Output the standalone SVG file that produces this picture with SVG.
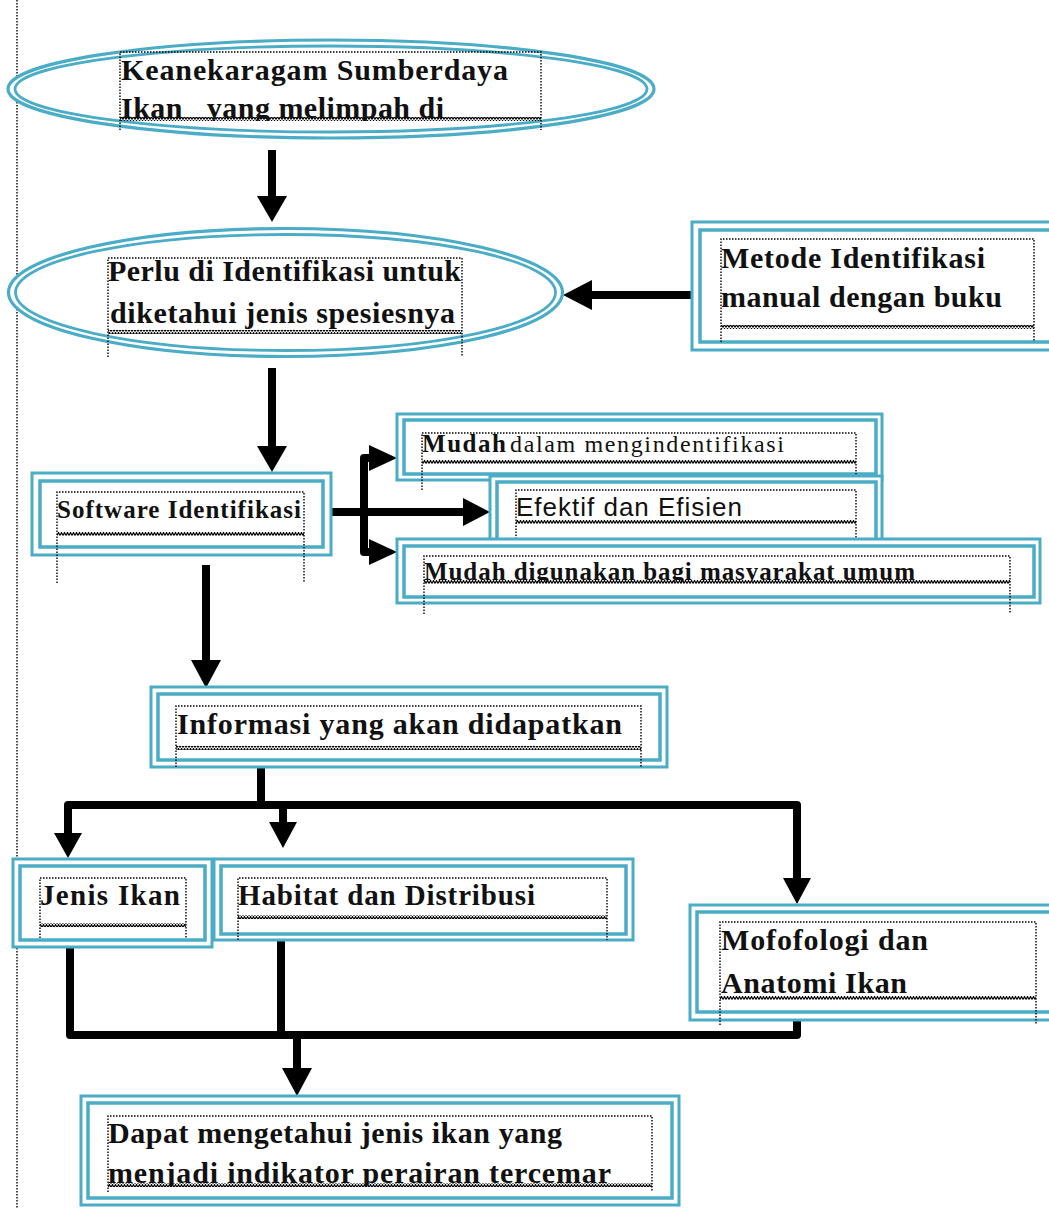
<svg xmlns="http://www.w3.org/2000/svg" width="1049" height="1209" viewBox="0 0 1049 1209">
<defs>
<style>
.o{fill:#fff;stroke:#4BACC6;stroke-width:3}
.i{fill:none;stroke:#4BACC6;stroke-width:3.5}
.eo{fill:#fff;stroke:#4BACC6;stroke-width:3.2}
.ei{fill:none;stroke:#4BACC6;stroke-width:2.8}
.dot{fill:none;stroke:#000;stroke-width:1.4;stroke-dasharray:1.5 1.5}
.t{font-family:"Liberation Serif","Times New Roman",serif;font-weight:bold;fill:#111}
.r{font-family:"Liberation Serif","Times New Roman",serif;fill:#111}
.s{font-family:"Liberation Sans",Arial,sans-serif;fill:#111}
.ln{fill:none;stroke:#000;stroke-width:8;stroke-linejoin:round}
.hd{fill:#000}
</style>
<pattern id="zz" width="3" height="4" patternUnits="userSpaceOnUse">
<path d="M0,3.5 L1.5,0.5 L3,3.5" fill="none" stroke="#000" stroke-width="1.2"/>
</pattern>
<clipPath id="c1"><rect x="100" y="40" width="460" height="81"/></clipPath>
<clipPath id="c2"><rect x="410" y="555" width="620" height="27"/></clipPath>
<clipPath id="c3"><rect x="100" y="1150" width="560" height="36"/></clipPath>
</defs>
<rect width="1049" height="1209" fill="#fff"/>
<line x1="17" y1="0" x2="17" y2="1209" class="dot"/>

<g id="connectors">
<line x1="272" y1="150" x2="272" y2="200" class="ln"/>
<polygon points="257,196 287,196 272,222" class="hd"/>
<line x1="697" y1="295" x2="588" y2="295" class="ln"/>
<polygon points="592,280 592,310 563,295" class="hd"/>
<line x1="272" y1="368" x2="272" y2="450" class="ln"/>
<polygon points="257,446 287,446 272,472" class="hd"/>
<line x1="331" y1="512" x2="468" y2="512" class="ln"/>
<polygon points="463,498 463,526 490,512" class="hd"/>
<polyline points="374,458 364,458 364,552 374,552" class="ln"/>
<polygon points="369,445 369,471 397,458" class="hd"/>
<polygon points="369,539 369,565 397,552" class="hd"/>
<line x1="206" y1="565" x2="206" y2="664" class="ln"/>
<polygon points="191,660 221,660 206,688" class="hd"/>
<line x1="261" y1="767" x2="261" y2="805" class="ln"/>
<polyline points="68,838 68,805 797,805 797,882" class="ln"/>
<polygon points="54,833 82,833 68,858" class="hd"/>
<line x1="283" y1="805" x2="283" y2="826" class="ln"/>
<polygon points="269,822 297,822 283,848" class="hd"/>
<polygon points="783,878 811,878 797,904" class="hd"/>
<polyline points="70,947 70,1035 797,1035 797,1020" class="ln"/>
<line x1="281" y1="934" x2="281" y2="1035" class="ln"/>
<line x1="297" y1="1035" x2="297" y2="1072" class="ln"/>
<polygon points="282,1068 312,1068 297,1096" class="hd"/>
</g>

<g id="node-keanekaragam">
<ellipse cx="331" cy="89" rx="323" ry="49" class="eo"/>
<ellipse cx="331" cy="89" rx="316" ry="43" class="ei"/>
<path d="M120,130 V52 H541 V130" class="dot"/>
<rect x="120" y="117" width="421" height="4" fill="url(#zz)"/>
<text x="121" y="80" class="t" font-size="30" textLength="387" lengthAdjust="spacing">Keanekaragam Sumberdaya</text>
<g clip-path="url(#c1)"><text x="121" y="118" class="t" font-size="30" textLength="323" lengthAdjust="spacing" xml:space="preserve">Ikan   yang melimpah di</text></g>
</g>

<g id="node-perlu">
<ellipse cx="285.5" cy="292.5" rx="277" ry="64" class="eo"/>
<ellipse cx="285.5" cy="292.5" rx="270" ry="58" class="ei"/>
<path d="M108,357 V258 H462 V357" class="dot"/>
<rect x="108" y="330" width="354" height="4" fill="url(#zz)"/>
<text x="108" y="281" class="t" font-size="30" textLength="353" lengthAdjust="spacing">Perlu di Identifikasi untuk</text>
<text x="110" y="323" class="t" font-size="30" textLength="345" lengthAdjust="spacing">diketahui jenis spesiesnya</text>
</g>

<g id="node-metode">
<rect x="692" y="222" width="370" height="128" class="o"/>
<rect x="700" y="230" width="370" height="112" class="i"/>
<path d="M721,342 V239 H1034 V342" class="dot"/>
<rect x="721" y="325" width="313" height="4" fill="url(#zz)"/>
<text x="721" y="268" class="t" font-size="30" textLength="264" lengthAdjust="spacing">Metode Identifikasi</text>
<text x="721" y="307" class="t" font-size="30" textLength="281" lengthAdjust="spacing">manual dengan buku</text>
</g>

<g id="node-software">
<rect x="32" y="473" width="299" height="82" class="o"/>
<rect x="40" y="481" width="283" height="66" class="i"/>
<path d="M57,583 V492 H304 V583" class="dot"/>
<rect x="57" y="532" width="247" height="4" fill="url(#zz)"/>
<text x="57" y="518" class="t" font-size="25" textLength="244" lengthAdjust="spacing">Software Identifikasi</text>
</g>

<g id="node-mudah1">
<rect x="397" y="414" width="485" height="66" class="o"/>
<rect x="404" y="420" width="472" height="54" class="i"/>
<path d="M422,490 V433 H856 V490" class="dot"/>
<rect x="422" y="460" width="434" height="4" fill="url(#zz)"/>
<text x="422" y="452" class="t" font-size="25" textLength="84" lengthAdjust="spacing">Mudah</text>
<text x="510" y="452" class="r" font-size="24" textLength="274" lengthAdjust="spacing">dalam mengindentifikasi</text>
</g>

<g id="node-efektif">
<rect x="490" y="476" width="392" height="76" class="o"/>
<rect x="497" y="482" width="379" height="64" class="i"/>
<path d="M516,548 V490 H856 V548" class="dot"/>
<rect x="516" y="520" width="340" height="4" fill="url(#zz)"/>
<text x="516" y="516" class="s" font-size="26" textLength="226" lengthAdjust="spacing">Efektif dan Efisien</text>
</g>

<g id="node-mudah3">
<rect x="397" y="539" width="643" height="64" class="o"/>
<rect x="404" y="546" width="630" height="51" class="i"/>
<path d="M424,614 V556 H1010 V614" class="dot"/>
<rect x="424" y="580" width="586" height="4" fill="url(#zz)"/>
<g clip-path="url(#c2)"><text x="424" y="580" class="t" font-size="25" textLength="491" lengthAdjust="spacing">Mudah digunakan bagi masyarakat umum</text></g>
</g>

<g id="node-informasi">
<rect x="151" y="687" width="516" height="80" class="o"/>
<rect x="158" y="694" width="502" height="66" class="i"/>
<path d="M176,767 V706 H641 V767" class="dot"/>
<rect x="176" y="746" width="465" height="4" fill="url(#zz)"/>
<text x="177" y="734" class="t" font-size="30" textLength="445" lengthAdjust="spacing">Informasi yang akan didapatkan</text>
</g>

<g id="node-jenis">
<rect x="13" y="859" width="199" height="88" class="o"/>
<rect x="20" y="866" width="185" height="74" class="i"/>
<path d="M40,938 V878 H186 V938" class="dot"/>
<rect x="40" y="923" width="146" height="4" fill="url(#zz)"/>
<text x="40" y="905" class="t" font-size="29" textLength="140" lengthAdjust="spacing">Jenis Ikan</text>
</g>

<g id="node-habitat">
<rect x="214" y="859" width="419" height="81" class="o"/>
<rect x="221" y="866" width="405" height="68" class="i"/>
<path d="M238,940 V878 H607 V940" class="dot"/>
<rect x="238" y="915" width="369" height="4" fill="url(#zz)"/>
<text x="238" y="905" class="t" font-size="29" textLength="297" lengthAdjust="spacing">Habitat dan Distribusi</text>
</g>

<g id="node-mofofologi">
<rect x="690" y="905" width="372" height="115" class="o"/>
<rect x="697" y="912" width="372" height="100" class="i"/>
<path d="M720,1025 V922 H1036 V1025" class="dot"/>
<rect x="720" y="996" width="316" height="4" fill="url(#zz)"/>
<text x="721" y="950" class="t" font-size="30" textLength="207" lengthAdjust="spacing">Mofofologi dan</text>
<text x="721" y="993" class="t" font-size="30" textLength="186" lengthAdjust="spacing">Anatomi Ikan</text>
</g>

<g id="node-dapat">
<rect x="81" y="1096" width="598" height="109" class="o"/>
<rect x="88" y="1103" width="584" height="95" class="i"/>
<path d="M108,1192 V1116 H652 V1192" class="dot"/>
<rect x="108" y="1183" width="544" height="4" fill="url(#zz)"/>
<text x="108" y="1143" class="t" font-size="30" textLength="454" lengthAdjust="spacing">Dapat mengetahui jenis ikan yang</text>
<g clip-path="url(#c3)"><text x="108" y="1183" class="t" font-size="30" textLength="503" lengthAdjust="spacing">menjadi indikator perairan tercemar</text></g>
</g>
</svg>
